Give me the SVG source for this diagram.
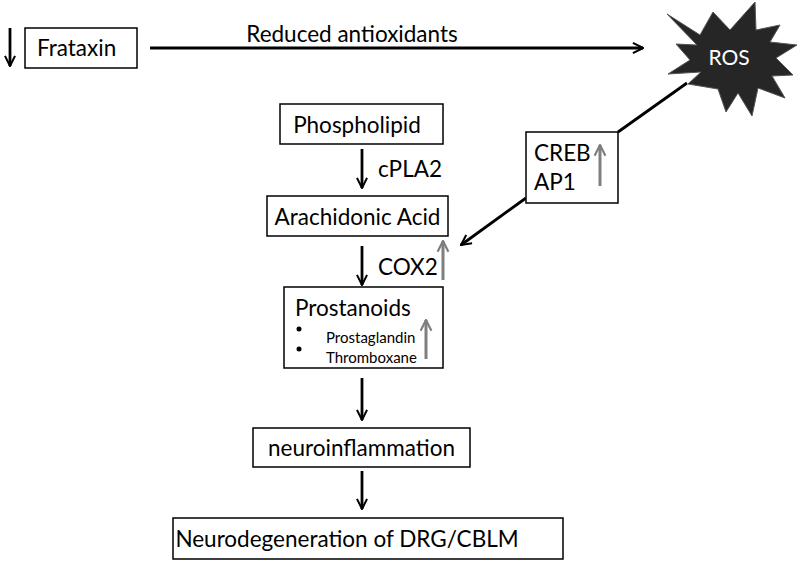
<svg xmlns="http://www.w3.org/2000/svg" width="800" height="562" viewBox="0 0 800 562">
<defs>
<style>
.box{fill:#fff;stroke:#000;stroke-width:1.5}
.t{font-family:Lato,"Open Sans",sans-serif;font-size:22.5px;fill:#000}
.s{font-family:Lato,"Open Sans",sans-serif;font-size:15px;fill:#000}
.a{stroke:#000;stroke-width:2.8;fill:none}
.g{stroke:#7f7f7f;stroke-width:3;fill:none}
</style>
<marker id="ah" viewBox="0 0 10 10" refX="9" refY="5" markerWidth="4.5" markerHeight="4.5" orient="auto" markerUnits="strokeWidth">
<path d="M1,1 L9,5 L1,9" fill="none" stroke="#000" stroke-width="1.6"/>
</marker>
<marker id="gh" viewBox="0 0 10 10" refX="9" refY="5" markerWidth="4.5" markerHeight="4.5" orient="auto" markerUnits="strokeWidth">
<path d="M1,1 L9,5 L1,9" fill="none" stroke="#7f7f7f" stroke-width="1.6"/>
</marker>
</defs>
<rect width="800" height="562" fill="#fff"/>
<g id="connectors">
<line class="a" x1="10" y1="28" x2="10" y2="66" marker-end="url(#ah)"/>
<line class="a" x1="150" y1="48" x2="643" y2="48" marker-end="url(#ah)"/>
<text class="t" x="352" y="42" text-anchor="middle" font-size="22">Reduced antioxidants</text>
<line class="a" x1="687" y1="83" x2="618" y2="132"/>
<line class="a" x1="526" y1="198" x2="461" y2="245" marker-end="url(#ah)"/>
<line class="a" x1="362" y1="149" x2="362" y2="188" marker-end="url(#ah)"/>
<text class="t" x="378" y="177">cPLA2</text>
<line class="a" x1="362" y1="246" x2="362" y2="285" marker-end="url(#ah)"/>
<text class="t" x="378" y="275">COX2</text>
<line class="g" x1="443" y1="280" x2="443" y2="241" marker-end="url(#gh)"/>
<line class="a" x1="362" y1="378" x2="362" y2="420" marker-end="url(#ah)"/>
<line class="a" x1="362" y1="471" x2="362" y2="509" marker-end="url(#ah)"/>
</g>
<g id="frataxin">
<rect class="box" x="25" y="28" width="112" height="40"/>
<text class="t" x="37" y="56">Frataxin</text>
</g>
<g id="ros">
<polygon fill="#262626" stroke="#555" stroke-width="1" points="667,14 700,35 713,12 730,30 755,2 756,30 780,25 770,42 797,45 776,58 793,75 772,76 785,98 758,88 752,116 738,93 726,112 718,89 688,84 701,72 668,74 690,60 676,44 697,45"/>
<text x="729" y="65" text-anchor="middle" font-family="Lato,'Open Sans',sans-serif" font-size="21" fill="#fff">ROS</text>
</g>
<g id="creb">
<rect class="box" x="526" y="132" width="92" height="71"/>
<text class="t" x="534" y="161">CREB</text>
<text class="t" x="534" y="190">AP1</text>
<line class="g" x1="600" y1="186" x2="600" y2="145" marker-end="url(#gh)"/>
</g>
<g id="phospholipid">
<rect class="box" x="280" y="104" width="163" height="40"/>
<text class="t" x="357" y="133" text-anchor="middle">Phospholipid</text>
</g>
<g id="arachidonic">
<rect class="box" x="267" y="196" width="181" height="40"/>
<text class="t" x="357.5" y="225" text-anchor="middle">Arachidonic Acid</text>
</g>
<g id="prostanoids">
<rect class="box" x="284" y="287" width="159" height="81"/>
<text class="t" x="295" y="316">Prostanoids</text>
<circle cx="299" cy="329" r="2.5" fill="#000"/>
<circle cx="299" cy="349" r="2.5" fill="#000"/>
<text class="s" x="326" y="343">Prostaglandin</text>
<text class="s" x="326" y="363">Thromboxane</text>
<line class="g" x1="426" y1="359" x2="426" y2="320" marker-end="url(#gh)"/>
</g>
<g id="neuroinflammation">
<rect class="box" x="253" y="428" width="217" height="39"/>
<text class="t" x="361.5" y="456" text-anchor="middle">neuroinflammation</text>
</g>
<g id="neurodegeneration">
<rect class="box" x="173" y="518" width="390" height="41"/>
<text class="t" x="347" y="547" text-anchor="middle" font-size="20.3">Neurodegeneration of DRG/CBLM</text>
</g>
</svg>
